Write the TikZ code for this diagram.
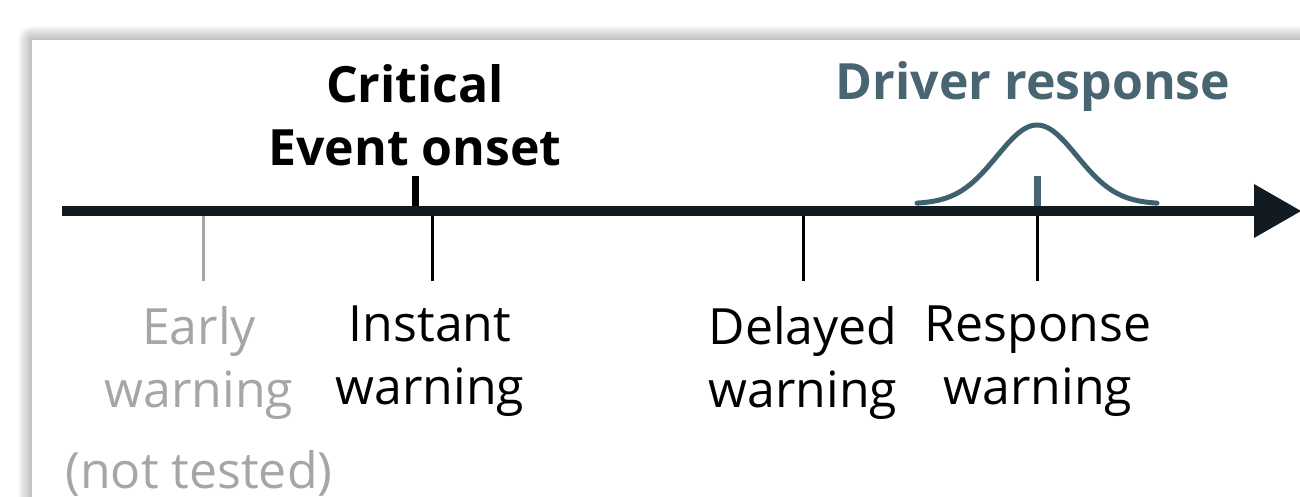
\documentclass[tikz,border=0pt]{standalone}
\usepackage{fontspec}
\setmainfont{Open Sans}
\definecolor{axiscol}{HTML}{121B21}
\definecolor{graytxt}{HTML}{A6A6A6}
\definecolor{drivercol}{HTML}{4A6572}
\definecolor{bellcol}{HTML}{3E6170}
\begin{document}
\begin{tikzpicture}[x=1pt,y=-1pt,
  lbl/.style={align=center, inner sep=0pt, font=\fontsize{50}{63}\selectfont},
  title/.style={align=center, inner sep=0pt, font=\fontsize{50}{63}\selectfont\bfseries},
  tickdown/.style={line width=3pt},
  tickup/.style={line width=7pt}]
\useasboundingbox (0,0) rectangle (1300,497);
% shadow and panel
\foreach \i in {1,...,14}
  \fill[black, opacity=0.018, rounded corners=\i pt] (32-\i,40-\i) rectangle (1330+\i,530+\i);
\fill[white] (32,40) rectangle (1330,530);
% bell curve
\draw[bellcol, line width=5pt, line cap=round] plot[domain=-120:120, samples=120, smooth] ({1037+\x}, {204-79*exp(-(\x*\x)/3200)});
% axis
\coordinate (axstart) at (62,211);
\coordinate (axend) at (1256,211);
\draw[axiscol, line width=10pt] (axstart) -- (axend);
\fill[axiscol] (1254,184) -- (1301,211) -- (1254,238) -- cycle;
% ticks
\coordinate (early) at (203,216);
\coordinate (instant) at (432,216);
\coordinate (delayed) at (803,216);
\coordinate (resp) at (1037,216);
\coordinate (onset) at (415,206);
\coordinate (respup) at (1037,206);
\draw[tickdown, graytxt] (early) -- ++(0,65);
\draw[tickdown, black] (instant) -- ++(0,65);
\draw[tickdown, black] (delayed) -- ++(0,65);
\draw[tickdown, black] (resp) -- ++(0,65);
\draw[tickup, black] (onset) -- ++(0,-30);
\draw[tickup, drivercol] (respup) -- ++(0,-30);
% labels
\node[title, anchor=center] (tonset) at (415,115) {Critical\\Event onset};
\node[title, anchor=center, text=drivercol] (tdriver) at (1033,87) {Driver response};
\node[lbl, anchor=north, text=graytxt] (learly) at (199,306) {Early\\warning\\[18pt](not tested)};
\node[lbl, anchor=north] (linstant) at (430,306) {Instant\\warning};
\node[lbl, anchor=north] (ldelayed) at (803,306) {Delayed\\warning};
\node[lbl, anchor=north] (lresp) at (1038,306) {Response\\warning};
\end{tikzpicture}
\end{document}
